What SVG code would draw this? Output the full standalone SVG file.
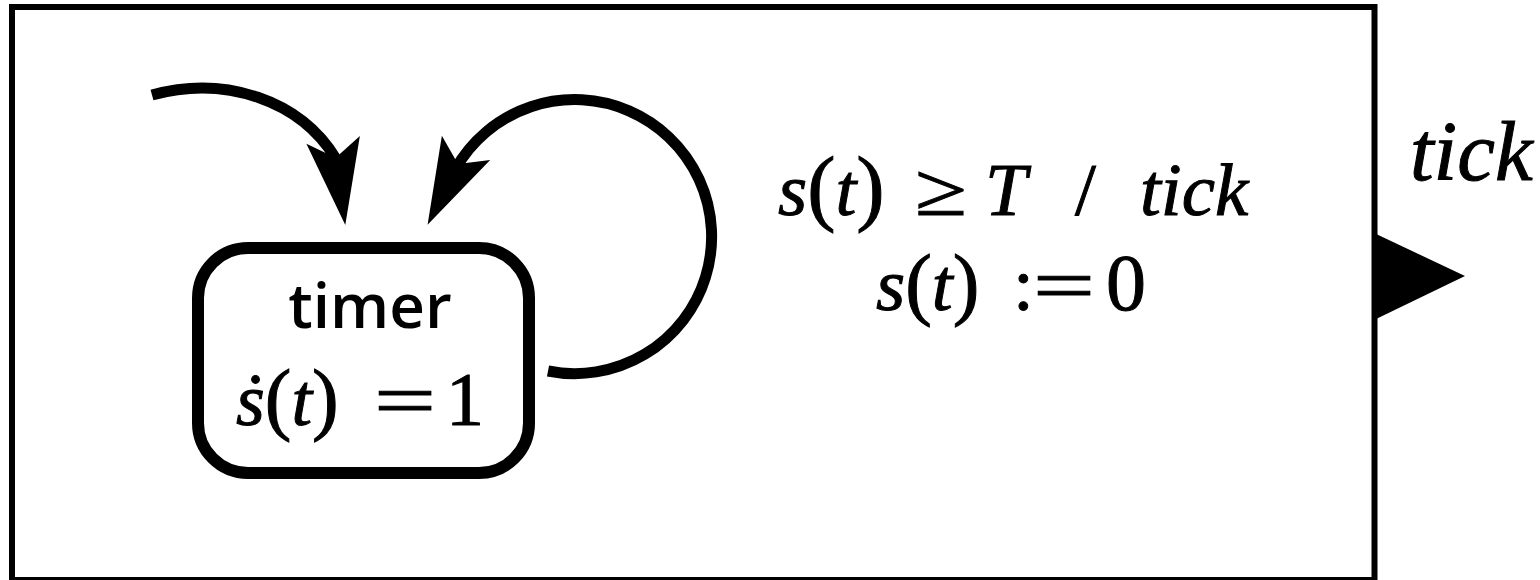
<svg xmlns="http://www.w3.org/2000/svg" width="1540" height="580" viewBox="0 0 1540 580">
<style>
.frame{fill:#fff;stroke:#000;stroke-width:6}
.node{fill:#fff;stroke:#000;stroke-width:12}
.edge{fill:none;stroke:#000;stroke-width:11}
.sans{font-family:"Open Sans","Noto Sans",sans-serif;font-weight:600;fill:#000}
.math{font-family:"Liberation Serif","Times New Roman",serif;fill:#000;stroke:#000;stroke-width:1}
.it{font-style:italic}
</style>
<defs>
<marker id="ah" markerUnits="userSpaceOnUse" orient="auto" markerWidth="120" markerHeight="80" viewBox="-40 -40 120 80" refX="0" refY="0" overflow="visible">
<path d="M60,0 L-26,-27 L-8,0 L-26,27 Z" fill="#000"/>
</marker>
</defs>
<g id="block">
<rect class="frame" x="12" y="7" width="1362.5" height="573"/>
<polygon id="port" points="1374,233 1465,276 1374,320" fill="#000"/>
<text class="math it" x="1410" y="180" font-size="85">tick</text>
</g>
<g id="connectors">
<path class="edge" d="M152,95 C225,75 300,100 335.8,158.6 L336.8,165.6" marker-end="url(#ah)"/>
<path class="edge" d="M548,371 A137,137 0 1 0 455.3,169.3 L454.4,171.1" marker-end="url(#ah)"/>
<g id="edge-label">
<text class="math" font-size="75" x="778" y="215"><tspan class="it">s</tspan><tspan font-size="85">(</tspan><tspan class="it">t</tspan><tspan font-size="85">)</tspan></text>
<text class="math" font-size="75" x="915" y="215" textLength="52" lengthAdjust="spacingAndGlyphs">≥</text>
<text class="math" font-size="75" y="215"><tspan class="it" x="985">T</tspan><tspan x="1075">/</tspan><tspan class="it" x="1140">tick</tspan></text>
<text class="math" font-size="75" x="876" y="310"><tspan class="it">s</tspan><tspan font-size="80">(</tspan><tspan class="it">t</tspan><tspan font-size="80">)</tspan><tspan x="1013">:</tspan></text>
<text class="math" font-size="75" x="1033" y="310" textLength="62" lengthAdjust="spacingAndGlyphs">=</text>
<text class="math" font-size="80" x="1106" y="310">0</text>
</g>
</g>
<g id="timer">
<rect class="node" x="198" y="248" width="331" height="225" rx="50"/>
<text class="sans" x="370" y="328" font-size="62" text-anchor="middle">timer</text>
<text class="math" font-size="74" x="236" y="425"><tspan class="it">ṡ</tspan><tspan font-size="80">(</tspan><tspan class="it">t</tspan><tspan font-size="80">)</tspan></text>
<text class="math" font-size="74" x="374" y="425" textLength="62" lengthAdjust="spacingAndGlyphs">=</text>
<text class="math" font-size="76" x="446" y="425">1</text>
</g>
</svg>
